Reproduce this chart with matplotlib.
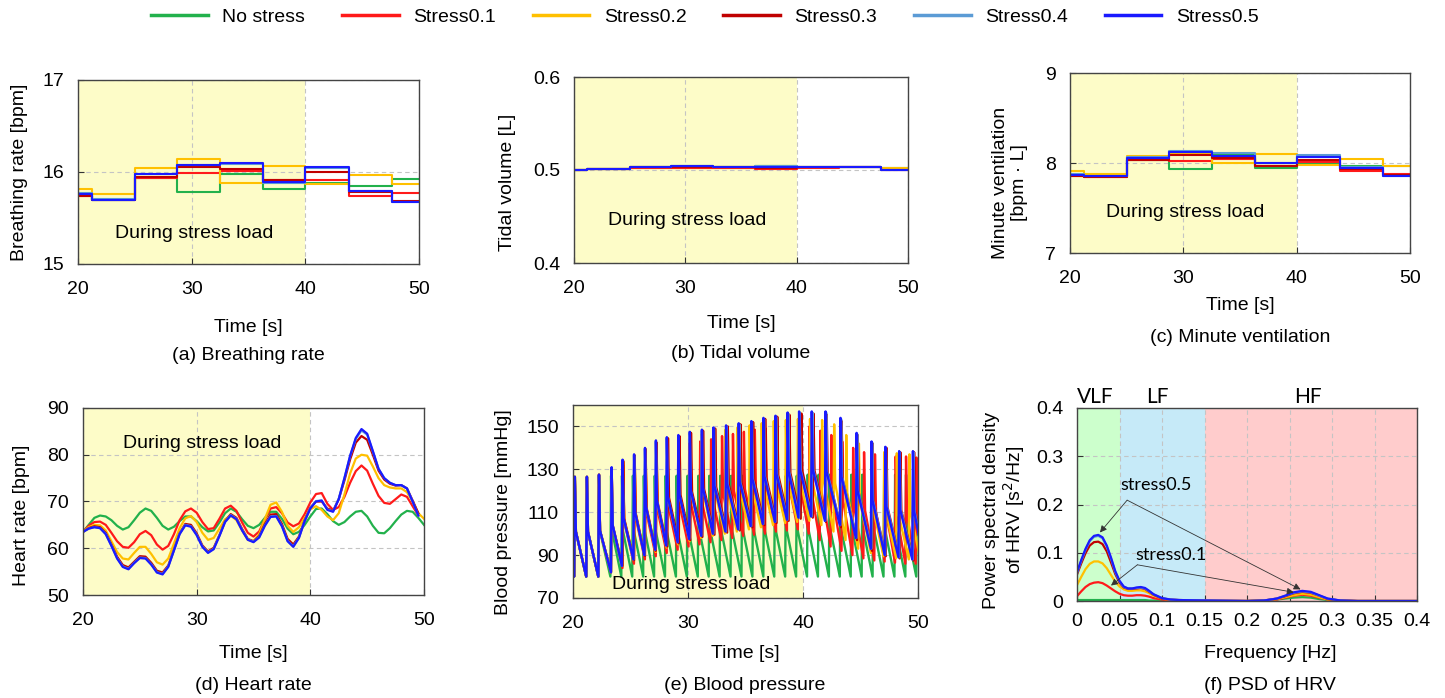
import numpy as np
import matplotlib
matplotlib.use("Agg")
import matplotlib.pyplot as plt

plt.rcParams['font.family'] = ['Liberation Sans', 'DejaVu Sans']

W, H = 1445, 698

names = ['No stress', 'Stress0.1', 'Stress0.2', 'Stress0.3', 'Stress0.4', 'Stress0.5']
colors = ['#22b14c', '#ff1a1a', '#ffc000', '#c00000', '#5b9bd5', '#1a1aff']

# breath step boundaries [s]
step_t = [20, 21.2, 25, 28.7, 32.5, 36.3, 40, 43.8, 47.6, 50]

# (a) breathing rate [bpm], one value per step
br_none = [15.76, 15.70, 15.94, 15.78, 15.98, 15.82, 15.88, 15.85, 15.92]
br_s01 = [15.74, 15.70, 15.94, 15.99, 16.01, 15.91, 15.91, 15.74, 15.77]
br_s02 = [15.81, 15.76, 16.04, 16.14, 15.88, 16.06, 15.87, 15.97, 15.87]
br_s03 = [15.74, 15.70, 15.95, 16.05, 16.03, 15.91, 16.00, 15.78, 15.68]
br_s04 = [15.77, 15.71, 15.98, 16.08, 16.09, 15.88, 16.04, 15.79, 15.67]
br_s05 = [15.76, 15.70, 15.98, 16.08, 16.10, 15.89, 16.05, 15.79, 15.67]

# (b) tidal volume [L]
tv_none = [0.500, 0.501, 0.5035, 0.504, 0.5035, 0.504, 0.5035, 0.5035, 0.502]
tv_s01 = [0.500, 0.501, 0.5025, 0.502, 0.5025, 0.5015, 0.5025, 0.503, 0.4995]
tv_s02 = [0.500, 0.501, 0.5035, 0.5035, 0.5035, 0.504, 0.503, 0.5035, 0.502]
tv_s03 = [0.500, 0.501, 0.503, 0.503, 0.503, 0.5025, 0.503, 0.503, 0.5]
tv_s04 = [0.500, 0.501, 0.5035, 0.504, 0.5035, 0.504, 0.5035, 0.5035, 0.5005]
tv_s05 = [0.500, 0.501, 0.5035, 0.504, 0.5035, 0.5035, 0.5035, 0.5035, 0.5005]

# (c) minute ventilation [bpm L]
mv_none = [7.87, 7.86, 8.03, 7.93, 8.10, 7.95, 8.00, 7.97, 7.97]
mv_s01 = [7.86, 7.85, 8.03, 8.02, 8.04, 7.97, 8.01, 7.91, 7.88]
mv_s02 = [7.91, 7.88, 8.08, 8.10, 8.00, 8.10, 7.98, 8.04, 7.97]
mv_s03 = [7.86, 7.85, 8.03, 8.09, 8.05, 7.97, 8.03, 7.93, 7.87]
mv_s04 = [7.88, 7.86, 8.07, 8.13, 8.11, 8.00, 8.09, 7.96, 7.86]
mv_s05 = [7.87, 7.86, 8.06, 8.12, 8.08, 8.00, 8.07, 7.95, 7.86]

# (d) heart rate [bpm], sampled every 0.5 s from 20 s
hr_t = np.arange(20, 50.01, 0.5)
hr_none = [63.5, 65.0, 66.5, 67.0, 66.8, 66.0, 64.8, 64.0, 64.5, 66.0,
           67.6, 68.5, 68.0, 66.5, 64.8, 64.0, 64.6, 65.8, 66.8, 66.8,
           65.8, 64.5, 63.6, 63.8, 65.5, 67.5, 68.5, 67.8, 66.2, 64.8,
           64.3, 65.0, 66.5, 67.8, 67.8, 66.3, 64.2, 63.0, 63.5, 65.0,
           66.8, 68.4, 68.5, 67.3, 65.8, 65.0, 65.6, 66.8, 67.8, 68.0,
           66.8, 64.8, 63.3, 63.2, 64.3, 65.8, 67.2, 68.0, 67.8, 66.5,
           65.0]
hr_s01 = [63.5, 64.8, 65.6, 65.7, 65.0, 63.3, 61.5, 60.3, 60.1, 61.3,
          63.0, 63.7, 62.8, 60.8, 59.7, 60.5, 63.0, 66.0, 67.9, 68.5,
          67.6, 65.6, 64.1, 64.3, 66.3, 68.5, 69.1, 68.0, 65.5, 63.3,
          62.5, 63.6, 66.2, 68.5, 68.8, 67.5, 65.5, 64.7, 65.3, 67.3,
          69.8, 71.6, 71.8, 69.5, 68.2, 68.8, 71.0, 74.0, 76.5, 77.7,
          76.6, 73.8, 71.2, 69.7, 69.5, 70.5, 71.5, 71.0, 69.0, 67.0]
hr_s02 = [63.5, 64.5, 65.0, 64.9, 63.8, 61.5, 59.2, 57.8, 57.6, 59.0,
          60.3, 60.3, 58.8, 57.0, 56.5, 57.8, 61.0, 64.3, 66.4, 66.9,
          65.6, 63.3, 61.8, 62.2, 64.2, 66.2, 67.0, 66.0, 63.8, 61.8,
          61.5, 63.0, 66.3, 69.3, 69.8, 67.8, 64.8, 63.5, 64.5, 66.5,
          68.3, 69.0, 68.2, 66.8, 66.0, 67.5, 71.5, 76.0, 79.2, 80.0,
          79.8, 77.5, 75.0, 73.5, 73.0, 72.8, 72.8, 72.0, 70.0, 67.5,
          66.3]
hr_s03 = [63.5, 64.3, 64.7, 64.5, 63.3, 60.8, 58.2, 56.4, 55.9, 57.1,
          58.3, 58.2, 56.9, 55.2, 54.8, 56.3, 59.7, 63.2, 65.2, 65.0,
          63.2, 60.6, 59.3, 60.1, 62.8, 65.8, 67.3, 66.5, 64.1, 62.0,
          61.5, 62.6, 65.2, 67.2, 67.3, 65.2, 62.0, 60.8, 62.5, 66.0,
          68.7, 70.0, 70.0, 68.5, 68.0, 70.5, 74.5, 79.0, 82.6, 84.0,
          83.2, 80.0, 76.6, 74.7, 73.8, 73.4, 73.5, 72.8, 70.2, 67.5]
hr_s04 = [63.5, 64.2, 64.5, 64.3, 63.1, 60.6, 57.9, 56.1, 55.6, 56.9,
          58.0, 57.9, 56.6, 54.9, 54.5, 56.1, 59.6, 63.1, 65.0, 64.7,
          62.9, 60.4, 59.1, 59.9, 62.7, 65.7, 67.1, 66.3, 63.9, 61.9,
          61.4, 62.4, 64.9, 66.8, 66.9, 64.8, 61.6, 60.4, 62.3, 65.9,
          68.6, 70.1, 70.2, 68.3, 67.9, 70.6, 75.0, 79.7, 83.4, 85.2,
          84.3, 80.7, 77.0, 75.0, 74.0, 73.5, 73.5, 72.8, 70.0, 67.0]
hr_s05 = [63.5, 64.2, 64.5, 64.3, 63.0, 60.5, 57.8, 56.0, 55.5, 56.8,
          57.9, 57.8, 56.5, 54.8, 54.4, 56.0, 59.5, 63.0, 64.9, 64.6,
          62.8, 60.3, 59.0, 59.8, 62.6, 65.6, 67.0, 66.2, 63.8, 61.8,
          61.3, 62.3, 64.8, 66.7, 66.8, 64.7, 61.5, 60.3, 62.2, 65.8,
          68.5, 70.0, 70.2, 68.2, 67.8, 70.5, 75.0, 79.8, 83.6, 85.5,
          84.5, 80.8, 77.0, 75.0, 74.0, 73.5, 73.5, 72.8, 70.0, 67.0]

# (e) blood pressure: beat onset [s], systolic peak and diastolic trough [mmHg]
bp_on_none = [20.1, 21.15, 22.2, 23.25, 24.2, 25.15, 26.1, 27.05, 28.0, 28.95,
              29.9, 30.85, 31.8, 32.75, 33.7, 34.65, 35.6, 36.55, 37.5, 38.45,
              39.4, 40.35, 41.3, 42.25, 43.2, 44.15, 45.1, 46.05, 47.0, 47.95,
              48.9, 49.85]
bp_pk_none = [126.5, 126.5, 127, 127, 127, 127, 127, 127, 127, 127,
              127, 127, 127, 127, 127, 127, 127, 127, 127, 127,
              127, 127.5, 127.5, 127.5, 127.5, 127.5, 127.5, 127.5, 127.5, 127.5,
              127.5, 127.5]
bp_tr_none = [80] * 32

bp_on_s01 = [20.1, 21.15, 22.2, 23.3, 24.3, 25.3, 26.25, 27.2, 28.15, 29.1,
             30.05, 31.0, 31.95, 32.9, 33.85, 34.8, 35.75, 36.7, 37.65, 38.6,
             39.55, 40.5, 41.45, 42.4, 43.35, 44.3, 45.25, 46.2, 47.1, 48.0,
             48.9, 49.8]
bp_pk_s01 = [126.5, 126.5, 127.5, 130, 132, 134, 136, 137.5, 139, 140.5,
             142, 143, 144, 145.5, 146.5, 147.5, 148.5, 149, 150, 150.5,
             151, 150, 148, 146, 143, 140, 138, 137, 136.5, 136,
             136, 135.5]
bp_tr_s01 = [80, 80, 80, 82, 84, 86, 88, 89.5, 91, 92.5,
             94, 95, 96, 97, 98, 99, 99.5, 100, 101, 101.5,
             102, 100, 97, 94, 92, 90, 88.5, 87.5, 87, 86.5,
             86, 86]

bp_on_s02 = [20.1, 21.15, 22.2, 23.3, 24.3, 25.3, 26.25, 27.2, 28.15, 29.15,
             30.15, 31.15, 32.15, 33.2, 34.25, 35.3, 36.35, 37.4, 38.45, 39.5,
             40.55, 41.6, 42.65, 43.7, 44.8, 45.9, 47.0, 48.1, 49.2]
bp_pk_s02 = [126.5, 126.5, 127.5, 130.5, 133.5, 136, 138.5, 141, 142.5, 144,
             145.5, 146.5, 147.5, 148.5, 149.5, 150.5, 151.5, 152.5, 153, 153.5,
             153.5, 153, 151, 146, 142, 139.5, 138, 137.5, 137]
bp_tr_s02 = [80, 80, 80, 82, 85, 87.5, 89.5, 91.5, 93.5, 95,
             96.5, 98, 99, 100, 101, 102, 103, 104, 105, 105.5,
             106, 104, 101, 97, 93, 91, 89.5, 88.5, 88]

bp_on_s03 = [20.1, 21.15, 22.2, 23.3, 24.3, 25.3, 26.25, 27.2, 28.2, 29.2,
             30.2, 31.25, 32.3, 33.4, 34.5, 35.6, 36.65, 37.7, 38.75, 39.8,
             40.85, 42.0, 43.3, 44.7, 46.0, 47.2, 48.4, 49.6]
bp_pk_s03 = [126.5, 126.5, 127.5, 130.5, 134, 136.5, 139.5, 142.5, 144.5, 145.5,
             147, 148, 149, 150, 151, 152, 153.5, 154.5, 155.5, 156,
             156, 155.5, 152.5, 146, 142, 140, 138, 138]
bp_tr_s03 = [80, 80, 80, 82, 85, 87.5, 89.5, 92, 94, 95.5,
             97, 98.5, 99.5, 100.5, 101.5, 103, 104, 105, 106, 107,
             107.5, 105.5, 103, 97, 92, 89.5, 88.5, 87.5]

bp_on_s04 = [20.1, 21.15, 22.2, 23.3, 24.25, 25.25, 26.2, 27.15, 28.1, 29.1,
             30.1, 31.15, 32.2, 33.3, 34.4, 35.5, 36.55, 37.6, 38.65, 39.65,
             40.75, 41.95, 43.25, 44.65, 45.95, 47.15, 48.35, 49.55]
bp_pk_s04 = [126.5, 126.5, 127.5, 130.5, 134, 136.5, 139.5, 143, 144.5, 145.5,
             147, 148, 149, 150, 151, 152, 153.5, 154.5, 156, 156.5,
             156.5, 156.5, 153.5, 146.5, 142.5, 140, 138, 138]
bp_tr_s04 = [80, 80, 80, 82, 85, 88, 90, 92.5, 94.5, 96,
             97.5, 99, 100, 101, 102, 103.5, 104.5, 105.5, 106.5, 107.5,
             108, 106, 104, 98, 93, 90, 89, 88]

bp_on_s05 = [20.1, 21.15, 22.2, 23.3, 24.25, 25.25, 26.2, 27.15, 28.1, 29.1,
             30.1, 31.15, 32.15, 33.25, 34.35, 35.45, 36.5, 37.55, 38.6, 39.6,
             40.7, 41.9, 43.2, 44.6, 45.9, 47.1, 48.3, 49.5]
bp_pk_s05 = [126.5, 126.5, 127.5, 131, 134.5, 137, 140, 143.5, 145, 146,
             147.5, 148.5, 149.5, 150.5, 151.5, 152.5, 154, 155, 156.5, 157,
             157, 157, 154, 147, 143, 140.5, 138.5, 138.5]
bp_tr_s05 = [80, 80, 80, 82, 85, 88, 90, 92.5, 94.5, 96,
             97.5, 99, 100, 101, 102, 103.5, 104.5, 105.5, 106.5, 107.5,
             108, 106, 104, 98, 93, 90, 89, 88]

# (f) PSD of HRV [s^2/Hz]
psd_f = [0, 0.005, 0.01, 0.015, 0.02, 0.025, 0.03, 0.035, 0.04, 0.045,
         0.05, 0.055, 0.06, 0.065, 0.07, 0.075, 0.08, 0.085, 0.09, 0.1,
         0.11, 0.12, 0.15, 0.2, 0.22, 0.235, 0.245, 0.255, 0.265, 0.275,
         0.285, 0.295, 0.31, 0.33, 0.4]
psd_none = [0.002, 0.002, 0.002, 0.002, 0.002, 0.002, 0.002, 0.002, 0.002, 0.002,
            0.002, 0.002, 0.002, 0.002, 0.002, 0.002, 0.002, 0.001, 0.001, 0.001,
            0.000, 0.000, 0.000, 0.000, 0.001, 0.003, 0.005, 0.007, 0.008, 0.007,
            0.004, 0.002, 0.000, 0.000, 0.000]
psd_s01 = [0.010, 0.020, 0.029, 0.035, 0.038, 0.039, 0.037, 0.032, 0.026, 0.020,
           0.015, 0.012, 0.011, 0.011, 0.012, 0.012, 0.011, 0.009, 0.006, 0.003,
           0.001, 0.001, 0.000, 0.000, 0.001, 0.003, 0.007, 0.011, 0.013, 0.011,
           0.007, 0.003, 0.001, 0.000, 0.000]
psd_s02 = [0.033, 0.050, 0.066, 0.077, 0.082, 0.082, 0.078, 0.068, 0.054, 0.040,
           0.030, 0.024, 0.021, 0.021, 0.022, 0.022, 0.020, 0.016, 0.011, 0.005,
           0.002, 0.001, 0.000, 0.000, 0.001, 0.004, 0.008, 0.012, 0.015, 0.013,
           0.008, 0.003, 0.001, 0.000, 0.000]
psd_s03 = [0.055, 0.078, 0.099, 0.115, 0.122, 0.123, 0.118, 0.103, 0.080, 0.056,
           0.038, 0.028, 0.025, 0.025, 0.026, 0.027, 0.025, 0.019, 0.013, 0.005,
           0.003, 0.002, 0.001, 0.000, 0.001, 0.005, 0.010, 0.016, 0.019, 0.017,
           0.011, 0.004, 0.001, 0.000, 0.000]
psd_s04 = [0.058, 0.083, 0.106, 0.124, 0.133, 0.135, 0.130, 0.113, 0.088, 0.060,
           0.041, 0.029, 0.026, 0.026, 0.027, 0.028, 0.026, 0.020, 0.014, 0.006,
           0.003, 0.002, 0.001, 0.000, 0.001, 0.005, 0.011, 0.017, 0.020, 0.018,
           0.011, 0.005, 0.001, 0.000, 0.000]
psd_s05 = [0.060, 0.085, 0.108, 0.126, 0.135, 0.137, 0.132, 0.115, 0.090, 0.062,
           0.042, 0.030, 0.026, 0.026, 0.028, 0.029, 0.027, 0.021, 0.014, 0.006,
           0.003, 0.002, 0.001, 0.000, 0.001, 0.005, 0.011, 0.018, 0.021, 0.019,
           0.012, 0.005, 0.001, 0.000, 0.000]

br_all = [br_none, br_s01, br_s02, br_s03, br_s04, br_s05]
tv_all = [tv_none, tv_s01, tv_s02, tv_s03, tv_s04, tv_s05]
mv_all = [mv_none, mv_s01, mv_s02, mv_s03, mv_s04, mv_s05]
hr_all = [hr_none, hr_s01, hr_s02, hr_s03, hr_s04, hr_s05]
bp_all = [(bp_on_none, bp_pk_none, bp_tr_none), (bp_on_s01, bp_pk_s01, bp_tr_s01),
          (bp_on_s02, bp_pk_s02, bp_tr_s02), (bp_on_s03, bp_pk_s03, bp_tr_s03),
          (bp_on_s04, bp_pk_s04, bp_tr_s04), (bp_on_s05, bp_pk_s05, bp_tr_s05)]
psd_all = [psd_none, psd_s01, psd_s02, psd_s03, psd_s04, psd_s05]

FS = 14
grid_kw = dict(color='#c4c4c4', linestyle=(0, (4, 3)), linewidth=0.8)
shade = '#fdfcc8'


def add_ax(l, t, r, b):
    ax = fig.add_axes([l / W, 1 - b / H, (r - l) / W, (b - t) / H])
    ax.tick_params(direction='in', length=4, labelsize=FS, pad=10, color='#333333')
    ax.tick_params(axis='x', pad=12)
    for s in ax.spines.values():
        s.set_color('#444444')
        s.set_linewidth(1.0)
        s.set_zorder(4)
    ax.set_axisbelow('line')
    ax.grid(True, **grid_kw)
    return ax


def ftext(x, y, s, **kw):
    fig.text(x / W, 1 - y / H, s, ha='center', va='center', fontsize=FS, **kw)


def bp_wave(on, pk, tr):
    xs, ys = [20.0], [tr[0] + 1]
    for t0, p, d in zip(on, pk, tr):
        xs += [t0, t0 + 0.06, t0 + 0.15]
        ys += [d, p, d + 0.45 * (p - d)]
    xs.append(on[-1] + 1.0)
    ys.append(tr[-1])
    return xs, ys


fig = plt.figure(figsize=(W / 100, H / 100), dpi=100)

# ---- top row: step plots
panels = [
    ((78, 80, 419, 264), br_all, (15, 17), [15, 16, 17], ['15', '16', '17'], 15.33),
    ((574, 77, 908, 263), tv_all, (0.4, 0.6), [0.4, 0.5, 0.6], ['0.4', '0.5', '0.6'], 0.446),
    ((1070, 73, 1410, 253), mv_all, (7, 9), [7, 8, 9], ['7', '8', '9'], 7.45),
]
top_axes = []
for rect, data, ylim, yt, ytl, ty in panels:
    ax = add_ax(*rect)
    ax.axvspan(20, 40, color=shade, zorder=0, lw=0)
    for vals, c, n in zip(data, colors, names):
        ax.step(step_t, list(vals) + [vals[-1]], where='post', color=c, lw=1.5, label=n)
    ax.set_xlim(20, 50)
    ax.set_ylim(*ylim)
    ax.set_xticks([20, 30, 40, 50])
    ax.set_yticks(yt)
    ax.set_yticklabels(ytl)
    ax.text(30.2, ty, 'During stress load', ha='center', va='center', fontsize=FS)
    top_axes.append(ax)

# ---- (d) heart rate
axd = add_ax(83, 408, 424, 595)
axd.axvspan(20, 40, color=shade, zorder=0, lw=0)
for vals, c in zip(hr_all, colors):
    axd.plot(hr_t[:len(vals)], vals, color=c, lw=1.6)
axd.set_xlim(20, 50)
axd.set_ylim(50, 90)
axd.set_xticks([20, 30, 40, 50])
axd.set_yticks([50, 60, 70, 80, 90])
axd.text(30.5, 82.5, 'During stress load', ha='center', va='center', fontsize=FS)

# ---- (e) blood pressure
axe = add_ax(573, 405, 918, 598)
axe.axvspan(20, 40, color=shade, zorder=0, lw=0)
for (on, pk, tr), c in zip(bp_all, colors):
    xs, ys = bp_wave(on, pk, tr)
    axe.plot(xs, ys, color=c, lw=1.7)
axe.set_xlim(20, 50)
axe.set_ylim(70, 160)
axe.set_xticks([20, 30, 40, 50])
axe.set_yticks([70, 90, 110, 130, 150])
axe.text(30.3, 76.2, 'During stress load', ha='center', va='center', fontsize=FS, zorder=5)

# ---- (f) PSD of HRV
axf = add_ax(1077, 408, 1417, 601)
axf.axvspan(0, 0.05, color='#ccffcc', zorder=0, lw=0)
axf.axvspan(0.05, 0.15, color='#c6eaf8', zorder=0, lw=0)
axf.axvspan(0.15, 0.4, color='#ffcccc', zorder=0, lw=0)
for vals, c in zip(psd_all, colors):
    axf.plot(psd_f, vals, color=c, lw=1.6)
axf.set_xlim(0, 0.4)
axf.set_ylim(0, 0.4)
xt = [0, 0.05, 0.1, 0.15, 0.2, 0.25, 0.3, 0.35, 0.4]
axf.set_xticks(xt)
axf.set_xticklabels(['0', '0.05', '0.1', '0.15', '0.2', '0.25', '0.3', '0.35', '0.4'])
axf.set_yticks([0, 0.1, 0.2, 0.3, 0.4])
axf.set_yticklabels(['0', '0.1', '0.2', '0.3', '0.4'])
axf.tick_params(axis='x', pad=9)
cal = ['Lato', 'DejaVu Sans']
for lab, fx in [('VLF', 0.021), ('LF', 0.094), ('HF', 0.272)]:
    axf.text(fx, 0.402, lab, ha='center', va='bottom', fontsize=15, family=cal)
arr = dict(arrowstyle='-|>', color='#333333', lw=0.6, mutation_scale=10, shrinkA=0, shrinkB=0)
axf.text(0.051, 0.24, 'stress0.5', ha='left', va='center', fontsize=13, family=cal)
axf.annotate('', xy=(0.027, 0.142), xytext=(0.059, 0.209), arrowprops=arr)
axf.annotate('', xy=(0.263, 0.024), xytext=(0.059, 0.209), arrowprops=arr)
axf.text(0.069, 0.095, 'stress0.1', ha='left', va='center', fontsize=13, family=cal)
axf.annotate('', xy=(0.040, 0.032), xytext=(0.071, 0.075), arrowprops=arr)
axf.annotate('', xy=(0.255, 0.018), xytext=(0.071, 0.075), arrowprops=arr)

# ---- labels and captions
ftext(20, 172, 'Breathing rate [bpm]', rotation=90)
ftext(507, 182, 'Tidal volume [L]', rotation=90)
ftext(1010, 183, 'Minute ventilation\n[bpm · L]', rotation=90, linespacing=1.1)
ftext(22, 515, 'Heart rate [bpm]', rotation=90)
ftext(503, 512, 'Blood pressure [mmHg]', rotation=90)
ftext(1005, 510, 'Power spectral density\nof HRV [s$^2$/Hz]', rotation=90, linespacing=1.1)

ftext(248, 328, 'Time [s]')
ftext(741, 323, 'Time [s]')
ftext(1240, 305, 'Time [s]')
ftext(253, 653, 'Time [s]')
ftext(745, 653, 'Time [s]')
ftext(1270, 653, 'Frequency [Hz]')

ftext(248, 355, '(a) Breathing rate')
ftext(741, 353, '(b) Tidal volume')
ftext(1240, 338, '(c) Minute ventilation')
ftext(253, 686, '(d) Heart rate')
ftext(745, 686, '(e) Blood pressure')
ftext(1270, 686, '(f) PSD of HRV')

handles, labels = top_axes[0].get_legend_handles_labels()
leg = fig.legend(handles, labels, loc='center', ncol=6, frameon=False, fontsize=FS,
                 bbox_to_anchor=(705 / W, 1 - 17 / H), handlelength=2.9,
                 handletextpad=0.75, columnspacing=1.9)
for ln in leg.get_lines():
    ln.set_linewidth(2.5)

fig.savefig('out.png', dpi=100)
